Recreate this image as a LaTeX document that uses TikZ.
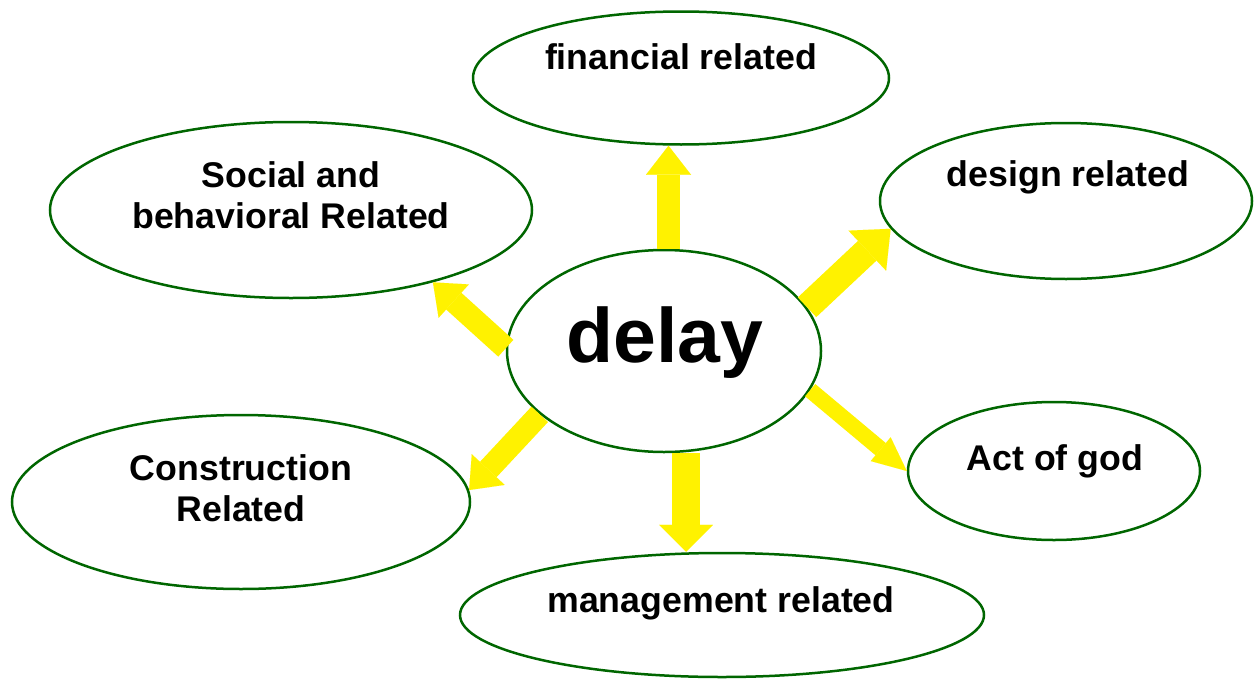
\documentclass[tikz,border=0pt]{standalone}
\usepackage{fontspec}
\setmainfont{Liberation Sans}
\usetikzlibrary{shapes.geometric,arrows.meta}

\tikzset{
  cause/.style={draw=green!40!black, line width=2.5pt, fill=white, ellipse, inner sep=0pt},
  lbl/.style={font=\bfseries\fontsize{35.7}{41}\selectfont, align=center, anchor=base},
  blkarr/.style n args={3}{draw=yellow, line width=#1,
    -{Triangle[width=#2, length=#3, line width=0.01pt]}}
}

\begin{document}
\begin{tikzpicture}[x=1pt,y=-1pt]
\useasboundingbox (0,0) rectangle (1255,680);
% outer ellipses
\node[cause, minimum width=416pt, minimum height=133pt] (fin) at (681,78) {};
\node[cause, minimum width=482pt, minimum height=176pt] (soc) at (291,210) {};
\node[cause, minimum width=372pt, minimum height=156pt] (des) at (1066,201) {};
\node[cause, minimum width=458pt, minimum height=174pt] (con) at (241,502) {};
\node[cause, minimum width=292pt, minimum height=138pt] (god) at (1054,471) {};
\node[cause, minimum width=524pt, minimum height=124pt] (man) at (722,615) {};
% centre
\node[cause, minimum width=314pt, minimum height=202pt] (delay) at (664,351) {};

% labels (base = last line)
\node[lbl] (finT) at (681,69) {financial related};
\node[lbl] (socT) at (291,228) {Social and\\behavioral Related};
\node[lbl] (desT) at (1068,186) {design related};
\node[lbl] (conT) at (241,521) {Construction\\Related};
\node[lbl] (godT) at (1055,470) {Act of god};
\node[lbl] (manT) at (721,612) {management related};
\node[lbl, font=\bfseries\fontsize{77}{80}\selectfont] (delayT) at (665,362) {delay};

% arrows
\draw[blkarr={23pt}{45pt}{29pt}] ([xshift=4.5pt]delay.north) -- ([xshift=-12.5pt]fin.south);
\draw[blkarr={27pt}{55pt}{32pt}] (delay.17.6) -- (des.189.7);
\draw[blkarr={22.6pt}{45pt}{28pt}] (delay.179) -- (soc.333);
\draw[blkarr={22.6pt}{45pt}{28pt}] (delay.207.5) -- (con.3.3);
\draw[blkarr={16pt}{31pt}{34pt}] (delay.345.7) -- (god.180);
\draw[blkarr={28pt}{54pt}{27pt}] ([xshift=22pt]delay.south) -- ([xshift=-36pt]man.north);
\end{tikzpicture}
\end{document}
